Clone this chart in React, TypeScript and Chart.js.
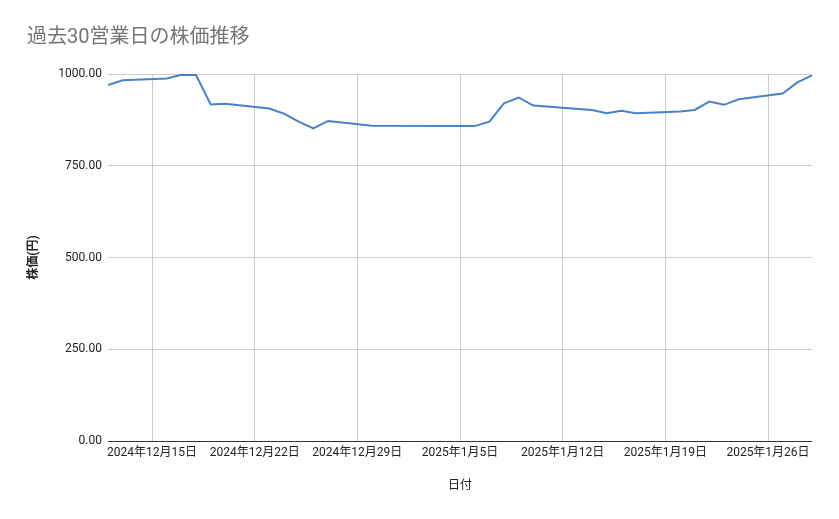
import { useEffect, useRef } from 'react';
import Chart from 'chart.js/auto';

const dates = [
  '2024-12-12', '2024-12-13', '2024-12-16', '2024-12-17', '2024-12-18',
  '2024-12-19', '2024-12-20', '2024-12-23', '2024-12-24', '2024-12-25',
  '2024-12-26', '2024-12-27', '2024-12-30', '2025-01-06', '2025-01-07',
  '2025-01-08', '2025-01-09', '2025-01-10', '2025-01-14', '2025-01-15',
  '2025-01-16', '2025-01-17', '2025-01-20', '2025-01-21', '2025-01-22',
  '2025-01-23', '2025-01-24', '2025-01-27', '2025-01-28', '2025-01-29',
];
const prices = [
  970, 983, 988, 998, 997,
  917, 919, 906, 892, 870,
  852, 872, 859, 858, 870,
  920, 936, 914, 902, 893,
  900, 893, 898, 902, 925,
  916, 931, 947, 977, 996,
];
const tickDates = [
  '2024-12-15', '2024-12-22', '2024-12-29', '2025-01-05',
  '2025-01-12', '2025-01-19', '2025-01-26',
];
const yTicks = [0, 250, 500, 750, 1000];

const FONT = "Roboto, 'Noto Sans CJK JP', sans-serif";
const DAY = 86400000;
const toMs = (s: string) => {
  const [y, m, d] = s.split('-').map(Number);
  return Date.UTC(y, m - 1, d);
};
const origin = toMs(dates[0]);
const toDay = (s: string) => Math.round((toMs(s) - origin) / DAY);
const dayLabel = (v: number) => {
  const dt = new Date(origin + v * DAY);
  return `${dt.getUTCFullYear()}年${dt.getUTCMonth() + 1}月${dt.getUTCDate()}日`;
};

const PriceChart = () => {
  const chartRef = useRef<HTMLCanvasElement>(null);
  const chartInstance = useRef<Chart | null>(null);

  useEffect(() => {
    document.body.style.margin = '0';
    if (!chartRef.current) return;
    const ctx = chartRef.current.getContext('2d');
    if (!ctx) return;

    chartInstance.current = new Chart(ctx, {
      type: 'line',
      data: {
        datasets: [
          {
            label: '株価',
            data: dates.map((d, i) => ({ x: toDay(d), y: prices[i] })),
            borderColor: '#4a80c8',
            borderWidth: 2,
            pointRadius: 0,
            tension: 0,
          },
        ],
      },
      options: {
        animation: false,
        responsive: true,
        maintainAspectRatio: false,
        layout: { padding: { left: 27, right: 27, top: 0, bottom: 0 } },
        plugins: {
          legend: { display: false },
          tooltip: { enabled: false },
          title: {
            display: true,
            text: '過去30営業日の株価推移',
            align: 'start',
            color: '#757575',
            font: { family: FONT, size: 20, weight: 'normal' },
            padding: { top: 26, bottom: 24 },
          },
        },
        scales: {
          x: {
            type: 'linear',
            min: 0,
            max: toDay(dates[dates.length - 1]),
            afterBuildTicks: (scale) => {
              scale.ticks = tickDates.map((d) => ({ value: toDay(d) }));
            },
            afterFit: (scale) => {
              scale.height = 78;
            },
            ticks: {
              autoSkip: false,
              maxRotation: 0,
              padding: 5,
              color: '#222',
              font: { family: FONT, size: 12 },
              callback: (v) => dayLabel(Number(v)),
            },
            grid: { color: '#cccccc', drawTicks: false },
            border: { display: false },
            title: {
              display: true,
              text: '日付',
              color: '#222',
              font: { family: FONT, size: 12 },
              padding: { top: 0, bottom: 26 },
            },
          },
          y: {
            min: 0,
            max: 1000,
            afterBuildTicks: (scale) => {
              scale.ticks = yTicks.map((v) => ({ value: v }));
            },
            afterFit: (scale) => {
              scale.width = 81;
            },
            ticks: {
              padding: 6,
              color: '#222',
              font: { family: FONT, size: 12 },
              callback: (v) => Number(v).toFixed(2),
            },
            grid: {
              drawTicks: false,
              color: (c) => (c.tick && c.tick.value === 0 ? '#333333' : '#cccccc'),
            },
            border: { display: false },
            title: {
              display: true,
              text: '株価(円)',
              color: '#222',
              font: { family: FONT, size: 12, weight: 'bold' },
              padding: { top: 0, bottom: 0 },
            },
          },
        },
      },
    });

    return () => {
      if (chartInstance.current) {
        chartInstance.current.destroy();
        chartInstance.current = null;
      }
    };
  }, []);

  return (
    <div style={{ position: 'relative', width: 839, height: 519, background: '#fff' }}>
      <canvas ref={chartRef} />
    </div>
  );
};

export default function App() {
  return <PriceChart />;
}
